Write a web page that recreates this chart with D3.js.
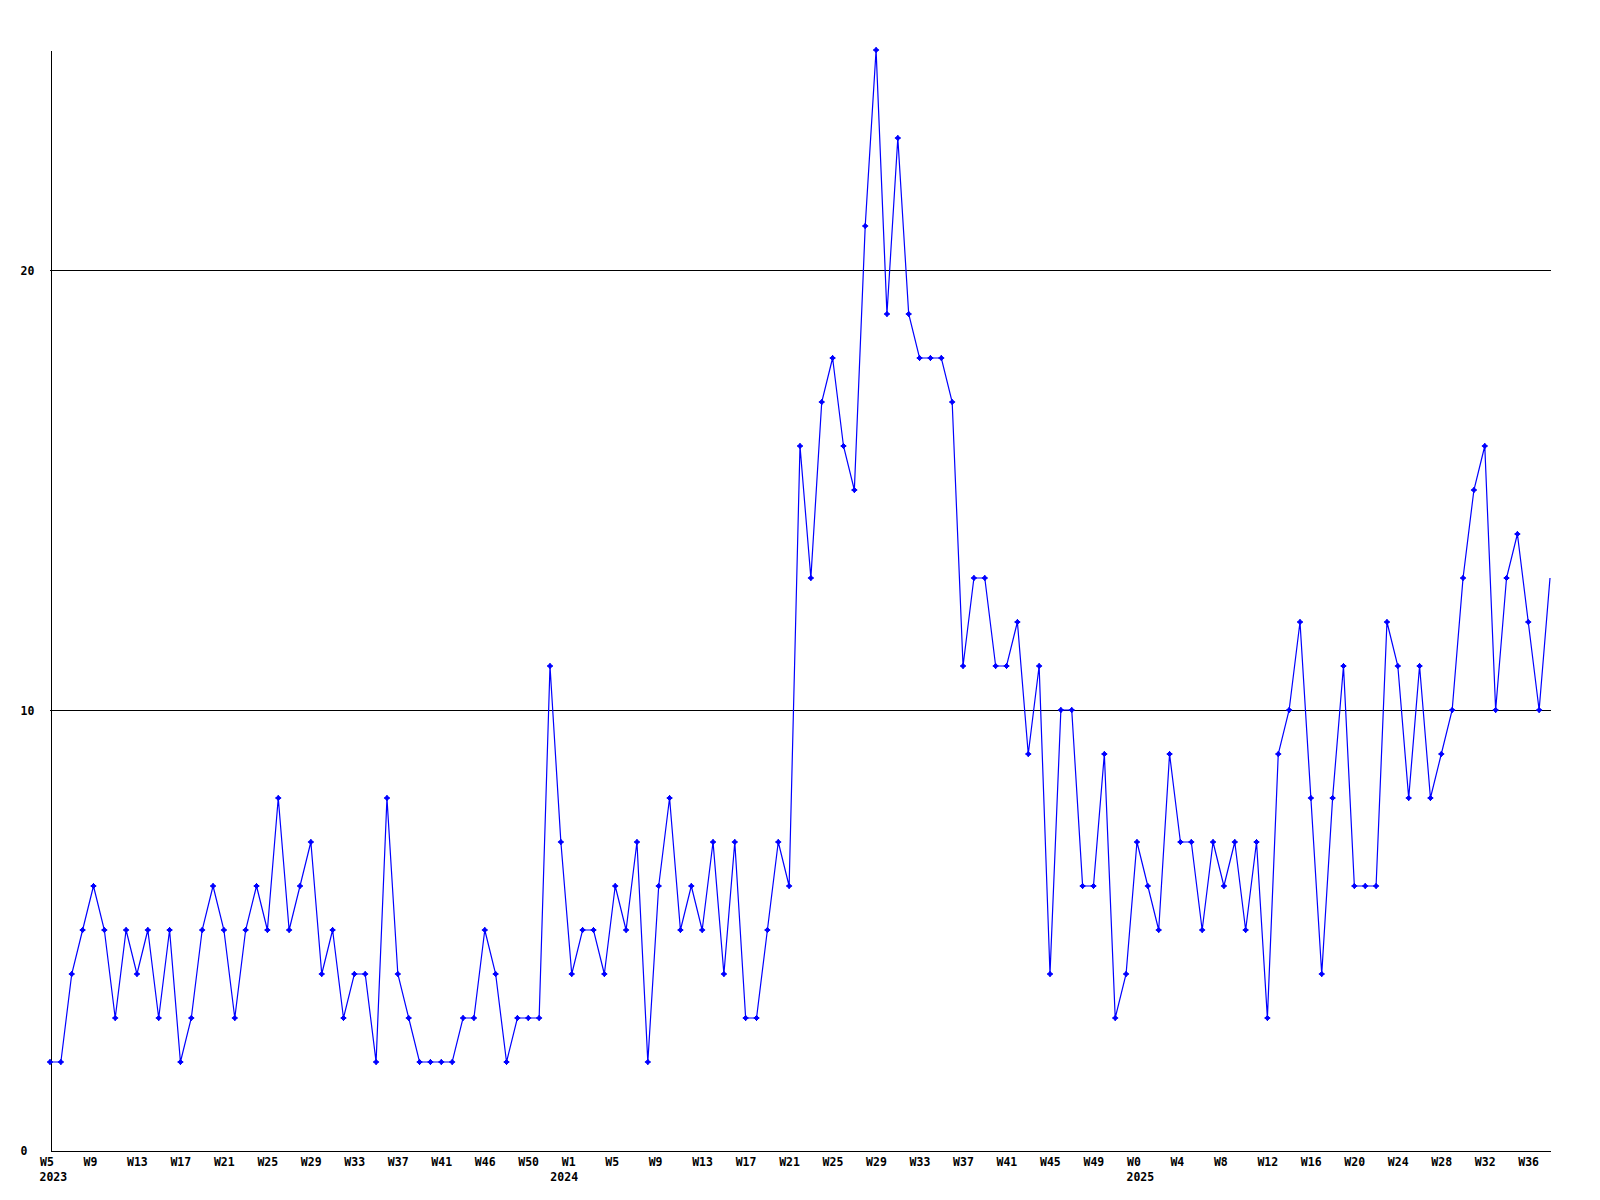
<!DOCTYPE html>
<html>
<head>
<meta charset="utf-8">
<script src="https://cdn.jsdelivr.net/npm/d3@7"></script>
<style>
  html, body { margin: 0; padding: 0; background: #ffffff; }
  svg { display: block; }
  text { font-family: "DejaVu Sans Mono", "Liberation Mono", monospace; font-weight: bold; font-size: 11.5px; fill: #000; }
</style>
</head>
<body>
<svg id="chart" width="1600" height="1200"></svg>
<script>
// ---- data ----
const values = [
  2,2,4,5,6,5,3,5,4,5,
  3,5,2,3,5,6,5,3,5,6,
  5,8,5,6,7,4,5,3,4,4,
  2,8,4,3,2,2,2,2,3,3,
  5,4,2,3,3,3,11,7,4,5,
  5,4,6,5,7,2,6,8,5,6,
  5,7,4,7,3,3,5,7,6,16,
  13,17,18,16,15,21,25,19,23,19,
  18,18,18,17,11,13,13,11,11,12,
  9,11,4,10,10,6,6,9,3,4,
  7,6,5,9,7,7,5,7,6,7,
  5,7,3,9,10,12,8,4,8,11,
  6,6,6,12,11,8,11,8,9,10,
  13,15,16,10,13,14,12,10,13
];
const weekTickLabels = [
  "W5","W9","W13","W17","W21","W25","W29","W33","W37","W41","W46","W50",
  "W1","W5","W9","W13","W17","W21","W25","W29","W33","W37","W41","W45","W49",
  "W0","W4","W8","W12","W16","W20","W24","W28","W32","W36"
];
const weekTickEvery = 4;
const yearLabels = ["2023","2024","2025"];
const yearStartIndex = [0, 47, 100];
const yTicks = [0, 10, 20];
const yMax = 25;

// ---- layout ----
const svg = d3.select("#chart");
const plotL = 50, plotR = 1550, plotT = 50, plotB = 1150;

const x = d3.scaleLinear().domain([0, values.length - 1]).range([plotL, plotR]);
const y = d3.scaleLinear().domain([0, yMax]).range([plotB, plotT]);

// gridlines
svg.append("g")
  .selectAll("line")
  .data(yTicks.filter(d => d > 0))
  .join("line")
  .attr("x1", plotL).attr("x2", plotR + 1)
  .attr("y1", d => Math.round(y(d)) + 0.5).attr("y2", d => Math.round(y(d)) + 0.5)
  .attr("stroke", "#000").attr("stroke-width", 1)
  .attr("shape-rendering", "crispEdges");

// left axis
const yAxis = svg.append("g")
  .attr("transform", `translate(${plotL + 0.5},0.5)`)
  .call(d3.axisLeft(y).tickValues(yTicks).tickSize(0).tickFormat(d3.format("d")));
yAxis.select(".domain").attr("stroke", "#000").attr("shape-rendering", "crispEdges");
yAxis.selectAll("text")
  .attr("x", -30).attr("text-anchor", "start")
  .attr("dy", "0.35em")
  .style("font-family", '"DejaVu Sans Mono", monospace')
  .style("font-size", "11.5px").style("font-weight", "bold");

// bottom axis
const tickIdx = weekTickLabels.map((d, i) => i * weekTickEvery);
const xAxis = svg.append("g")
  .attr("transform", `translate(0.5,${plotB + 0.5})`)
  .call(d3.axisBottom(x).tickValues(tickIdx).tickSize(0)
        .tickFormat((d, i) => weekTickLabels[i]));
xAxis.select(".domain").attr("stroke", "#000").attr("shape-rendering", "crispEdges");
xAxis.selectAll(".tick text")
  .attr("text-anchor", "start").attr("x", -11).attr("y", 11.5).attr("dy", "0.35em")
  .style("font-family", '"DejaVu Sans Mono", monospace')
  .style("font-size", "11.5px").style("font-weight", "bold");

// year labels
svg.append("g")
  .selectAll("text")
  .data(yearLabels)
  .join("text")
  .attr("x", (d, i) => x(yearStartIndex[i]) - 10.5)
  .attr("y", 1176.5)
  .attr("dy", "0.35em")
  .attr("text-anchor", "start")
  .text(d => d);

// line
const line = d3.line().x((d, i) => x(i)).y(d => y(d));
svg.append("path")
  .datum(values)
  .attr("d", line)
  .attr("fill", "none")
  .attr("stroke", "#0000ff")
  .attr("stroke-width", 1.2);

// markers (last point sits on the plot edge without a marker)
const mk = svg.append("g").attr("fill", "#0000ff").attr("stroke", "#0000ff");
mk.selectAll("path")
  .data(values.slice(0, values.length - 1))
  .join("path")
  .attr("transform", (d, i) => `translate(${x(i)},${y(d)})`)
  .attr("d", "M-2.5,0L0,-2.5L2.5,0L0,2.5Z M-3,0H3 M0,-3V3")
  .attr("stroke-width", 1);
</script>
</body>
</html>
